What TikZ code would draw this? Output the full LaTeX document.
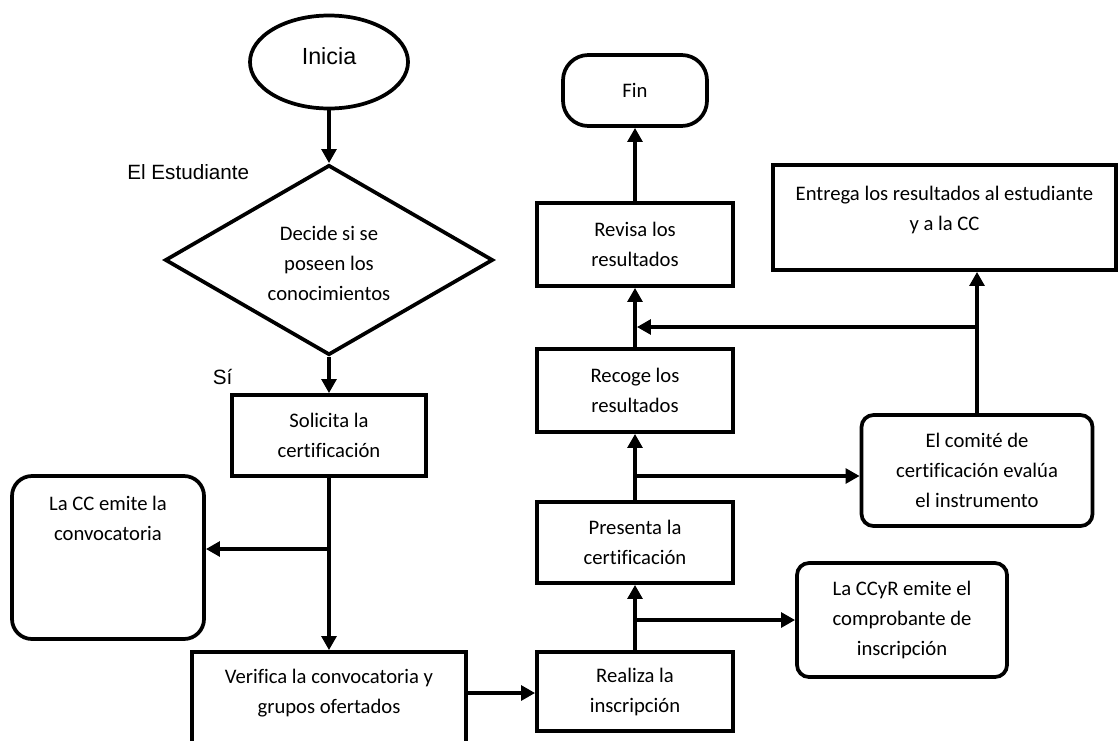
\documentclass[tikz,border=0pt]{standalone}
\usepackage{fontspec}
\setmainfont{Carlito}[Ligatures=NoCommon]
\newfontfamily\arialfont{Liberation Sans}
\usetikzlibrary{arrows.meta,shapes.geometric}
\begin{document}
\begin{tikzpicture}[x=0.75pt,y=-0.75pt,
  line width=2.8pt,
  every node/.style={inner sep=0pt},
  txt/.style={align=center, font=\fontsize{15.5}{22.5}\selectfont},
  box/.style={draw, rectangle, txt},
  rbox/.style={box, rounded corners=9pt},
  lbl/.style={font=\arialfont\fontsize{15.5}{18}\selectfont},
  arr/.style={-{Triangle[length=10.5pt,width=11pt]}}
]
\useasboundingbox (0,0) rectangle (1119,740);
\clip (0,0) rectangle (1119,740);

% helper heights for branch lines
\coordinate (y549) at (0,549);
\coordinate (y476) at (0,476);
\coordinate (y327) at (0,327);

% left column
\node[draw, ellipse, minimum width=118.5pt, minimum height=69.75pt] (ini) at (329,62) {};
\node[font=\arialfont\fontsize{17.5}{20}\selectfont] (ini-t) at (329,56) {Inicia};
\node[lbl, anchor=east] (est) at (251,172) {El Estudiante};
\node[draw, diamond, minimum width=246pt, minimum height=142.5pt] (dec) at (329,260) {};
\node[txt] (dec-t) at (329,263) {Decide si se\\poseen los\\conocimientos};
\node[lbl, anchor=west] (si) at (211,377) {Sí};
\node[box, minimum width=145.5pt, minimum height=60.75pt] (sol) at (329,435.5) {Solicita la\\certificación};
\node[draw, rounded corners=15pt, minimum width=144pt, minimum height=122.25pt] (cc) at (108,557.5) {};
\node[txt] (cc-t) at (108,518) {La CC emite la\\convocatoria};
\node[draw, minimum width=205.5pt, minimum height=81pt] (ver) at (329,706) {};
\node[txt] (ver-t) at (329,693) {Verifica la convocatoria y\\grupos ofertados};

% middle column
\node[box, minimum width=147pt, minimum height=59.25pt] (rea) at (635,691.5) {Realiza la\\inscripción};
\node[box, minimum width=147pt, minimum height=60.75pt] (pre) at (635,542.5) {Presenta la\\certificación};
\node[box, minimum width=147pt, minimum height=62.25pt] (reg) at (635,390.5) {Recoge los\\resultados};
\node[box, minimum width=147pt, minimum height=62.25pt] (rev) at (635,244.5) {Revisa los\\resultados};
\node[box, rounded corners=19pt, minimum width=108pt, minimum height=53.25pt] (fin) at (635,90.5) {Fin};

% right column
\node[rbox, minimum width=157.5pt, minimum height=85.5pt] (ccyr) at (902,620) {La CCyR emite el\\comprobante de\\inscripción};
\node[rbox, minimum width=173.25pt, minimum height=83.25pt] (com) at (977,470.5) {El comité de\\certificación evalúa\\el instrumento};
\node[draw, minimum width=257.25pt, minimum height=78.75pt] (ent) at (944.5,217.5) {};
\node[txt] (ent-t) at (944.5,210) {Entrega los resultados al estudiante\\y a la CC};

% connectors
\draw[arr] (ini) -- (dec);
\draw[arr] (dec.south) -- (sol.north);
\draw[arr] (sol.south) -- (ver.north);
\draw[arr] (sol.south |- y549) -- (cc.east |- y549);
\draw[arr] (ver-t.east -| ver.east) -- (ver-t.east -| rea.west);
\draw[arr] (rea.north) -- (pre.south);
\draw[arr] (rea.north |- ccyr.west) -- (ccyr.west);
\draw[arr] (pre.north) -- (reg.south);
\draw[arr] (pre.north |- y476) -- (com.west |- y476);
\draw[arr] (reg.north) -- (rev.south);
\draw[arr] (rev.north) -- (fin.south);
\draw[arr] (com.north) -- (com.north |- ent.south);
\draw[arr] (com.north |- y327) -- ([xshift=1.4pt]reg.north |- y327);
\end{tikzpicture}
\end{document}
